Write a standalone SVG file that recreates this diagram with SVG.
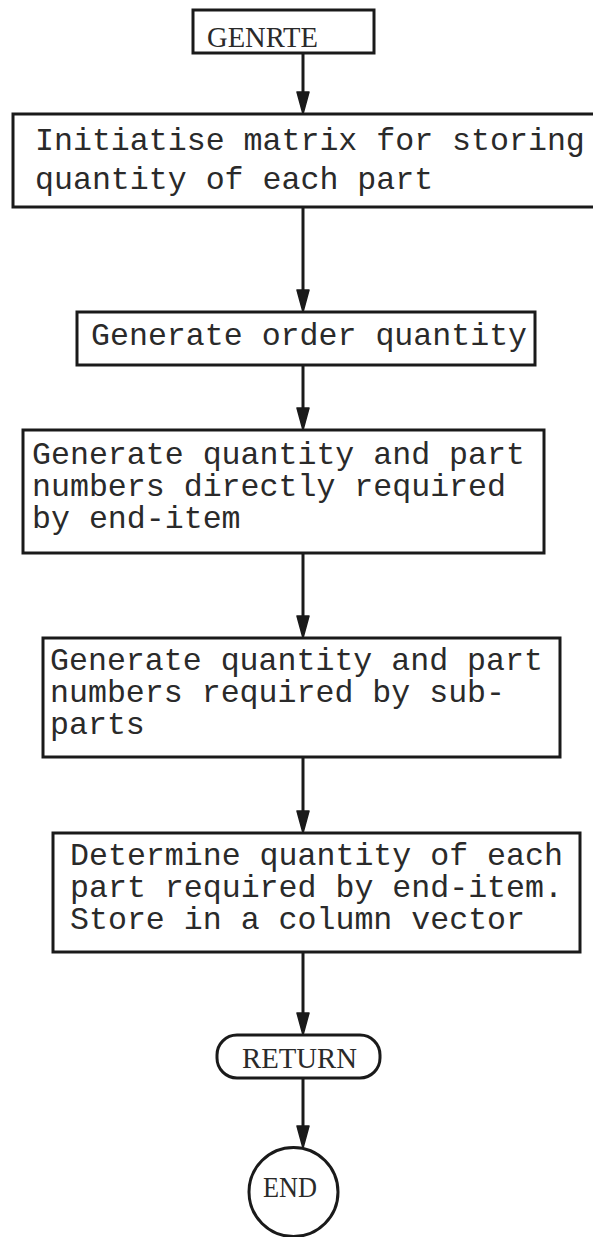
<svg xmlns="http://www.w3.org/2000/svg" xmlns:xlink="http://www.w3.org/1999/xlink" width="593" height="1237" viewBox="0 0 593 1237">
  <style>
    .box { fill: none; stroke: #1a1a1a; stroke-width: 3; }
    .wire { fill: none; stroke: #1a1a1a; stroke-width: 3; }
    .tw { font-family: "Liberation Mono", "Courier New", monospace; font-size: 31.6px; fill: #2a2a2a; }
    .cap { font-family: "Liberation Serif", "Times New Roman", serif; fill: #2a2a2a; }
  </style>
  <defs>
    <!-- arrowhead, tip at the origin, pointing down -->
    <path id="ah" d="M-6,-22 L6,-22 L0,0 Z" fill="#1a1a1a" stroke="#1a1a1a" stroke-width="1.5" stroke-linejoin="round"/>
  </defs>
  <rect width="593" height="1237" fill="#ffffff"/>

  <!-- flow lines -->
  <g id="connectors">
    <line class="wire" x1="303" y1="53" x2="303" y2="104"/>
    <use xlink:href="#ah" transform="translate(303,114)"/>
    <line class="wire" x1="303" y1="207" x2="303" y2="302"/>
    <use xlink:href="#ah" transform="translate(303,312)"/>
    <line class="wire" x1="303" y1="365" x2="303" y2="420"/>
    <use xlink:href="#ah" transform="translate(303,430)"/>
    <line class="wire" x1="303" y1="553" x2="303" y2="628"/>
    <use xlink:href="#ah" transform="translate(303,638)"/>
    <line class="wire" x1="303" y1="757" x2="303" y2="823"/>
    <use xlink:href="#ah" transform="translate(303,833)"/>
    <line class="wire" x1="303" y1="952" x2="303" y2="1025"/>
    <use xlink:href="#ah" transform="translate(303,1035)"/>
    <line class="wire" x1="303" y1="1078" x2="303" y2="1138"/>
    <use xlink:href="#ah" transform="translate(303,1148)"/>
  </g>

  <g id="genrte">
    <rect class="box" x="193" y="10" width="181" height="43"/>
    <text class="cap" x="207" y="47" font-size="29" textLength="111" lengthAdjust="spacingAndGlyphs">GENRTE</text>
  </g>

  <g id="init-matrix">
    <rect class="box" x="13" y="114" width="590" height="93"/>
    <text class="tw" x="35" y="150">Initiatise matrix for storing</text>
    <text class="tw" x="35" y="189">quantity of each part</text>
  </g>

  <g id="order-qty">
    <rect class="box" x="77" y="312" width="458" height="53"/>
    <text class="tw" x="91" y="345">Generate order quantity</text>
  </g>

  <g id="direct-parts">
    <rect class="box" x="23" y="430" width="521" height="123"/>
    <text class="tw" x="32" y="464">Generate quantity and part</text>
    <text class="tw" x="32" y="496">numbers directly required</text>
    <text class="tw" x="32" y="528">by end-item</text>
  </g>

  <g id="sub-parts">
    <rect class="box" x="43" y="638" width="517" height="119"/>
    <text class="tw" x="50" y="670">Generate quantity and part</text>
    <text class="tw" x="50" y="702">numbers required by sub-</text>
    <text class="tw" x="50" y="734">parts</text>
  </g>

  <g id="total-qty">
    <rect class="box" x="53" y="833" width="527" height="119"/>
    <text class="tw" x="70" y="865">Determine quantity of each</text>
    <text class="tw" x="70" y="897">part required by end-item.</text>
    <text class="tw" x="70" y="929">Store in a column vector</text>
  </g>

  <g id="return">
    <rect class="box" x="217" y="1035" width="163" height="43" rx="20" ry="20"/>
    <text class="cap" x="242" y="1068" font-size="30" textLength="115" lengthAdjust="spacingAndGlyphs">RETURN</text>
  </g>

  <g id="end">
    <circle class="box" cx="293.5" cy="1192" r="44.5"/>
    <text class="cap" x="263" y="1197" font-size="30" textLength="54" lengthAdjust="spacingAndGlyphs">END</text>
  </g>
</svg>
